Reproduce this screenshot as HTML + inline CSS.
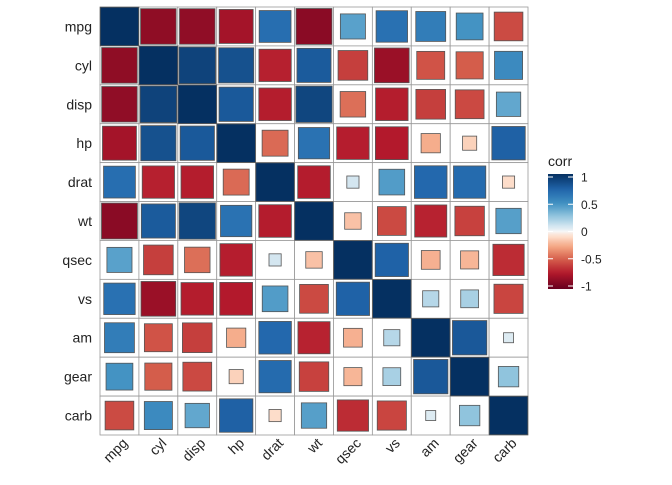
<!DOCTYPE html>
<html><head><meta charset="utf-8"><style>
body{margin:0;background:#fff;font-family:"Liberation Sans",Arial,sans-serif}
</style></head><body>
<svg id="c" width="672" height="480" xmlns="http://www.w3.org/2000/svg"></svg>
<script>
const vars=["mpg","cyl","disp","hp","drat","wt","qsec","vs","am","gear","carb"];
const corrRows=[
[1,-0.852,-0.848,-0.776,0.681,-0.868,0.419,0.664,0.600,0.480,-0.551],
[-0.852,1,0.902,0.832,-0.700,0.782,-0.591,-0.811,-0.523,-0.493,0.527],
[-0.848,0.902,1,0.791,-0.710,0.888,-0.434,-0.710,-0.591,-0.556,0.395],
[-0.776,0.832,0.791,1,-0.449,0.659,-0.708,-0.723,-0.243,-0.126,0.750],
[0.681,-0.700,-0.710,-0.449,1,-0.712,0.091,0.440,0.713,0.700,-0.091],
[-0.868,0.782,0.888,0.659,-0.712,1,-0.175,-0.555,-0.692,-0.583,0.428],
[0.419,-0.591,-0.434,-0.708,0.091,-0.175,1,0.745,-0.230,-0.213,-0.656],
[0.664,-0.811,-0.710,-0.723,0.440,-0.555,0.745,1,0.168,0.206,-0.570],
[0.600,-0.523,-0.591,-0.243,0.713,-0.692,-0.230,0.168,1,0.794,0.058],
[0.480,-0.493,-0.556,-0.126,0.700,-0.583,-0.213,0.206,0.794,1,0.274],
[-0.551,0.527,0.395,0.750,-0.091,0.428,-0.656,-0.570,0.058,0.274,1]];
const legendTicks=[1,0.5,0,-0.5,-1];
const NS="http://www.w3.org/2000/svg";
const svg=document.getElementById('c');
function mk(t,a,p){const e=document.createElementNS(NS,t);for(const k in a)e.setAttribute(k,a[k]);(p||svg).appendChild(e);return e;}
const X0=100,Y0=7,W=428,H=428,n=vars.length,cw=W/n,ch=H/n;
const xs=i=>X0+i*cw, ys=j=>Y0+j*ch;
const stops=[[-1,[103,0,31]],[-0.8,[178,24,43]],[-0.6,[214,96,77]],[-0.4,[244,165,130]],[-0.2,[253,219,199]],[0,[247,247,247]],[0.2,[209,229,240]],[0.4,[146,197,222]],[0.6,[67,147,195]],[0.8,[33,102,172]],[1,[5,48,97]]];
function colRaw(v){for(let i=0;i<stops.length-1;i++){const[a,ca]=stops[i],[b,cb]=stops[i+1];if(v<=b){const t=(v-a)/(b-a);return 'rgb('+ca.map((c,k)=>Math.round(c+(cb[k]-c)*t)).join(',')+')';}}return 'rgb(5,48,97)';}
function col(v){return colRaw(Math.sign(v)*Math.pow(Math.abs(v),0.7));}
let rmin=1;corrRows.forEach(r=>r.forEach(v=>{rmin=Math.min(rmin,Math.abs(v));}));
const s0=10,s1=38.5;
function side(v){const a=Math.abs(v);return Math.sqrt(s0*s0+(s1*s1-s0*s0)*(a-rmin)/(1-rmin));}
for(let j=0;j<n;j++)for(let i=0;i<n;i++){
 const bg=mk('rect',{x:xs(i),y:ys(j),width:cw,height:ch,fill:'#fff',stroke:'#999','stroke-width':0.8});
 
 
}
for(let j=0;j<n;j++)for(let i=0;i<n;i++){
 const v=corrRows[j][i],s=side(v);
 const r=mk('rect',{x:xs(i)+cw/2-s/2,y:ys(j)+ch/2-s/2,width:s,height:s,fill:col(v),stroke:'#555','stroke-width':0.8});
 
 
}
vars.forEach((v,j)=>{const t=mk('text',{x:92,y:ys(j)+ch/2+5,'text-anchor':'end','font-size':14,fill:'#222'});t.textContent=v;
 
 });
vars.forEach((v,i)=>{const cx=xs(i)+cw/2+9,cy=444;const t=mk('text',{x:cx,y:cy,'text-anchor':'end','font-size':14,fill:'#222',transform:'rotate(-45 '+cx+' '+cy+')'});t.textContent=v;
 
 });
const LX=548,LY=174,LW=25,LH=115;
const defs=mk('defs',{});const g=mk('linearGradient',{id:'lg',x1:0,y1:1,x2:0,y2:0},defs);
for(let k=0;k<=40;k++){const v=-1+k/20;mk('stop',{offset:(k/40*100)+'%','stop-color':col(v)},g);}
const lt=mk('text',{x:LX,y:166,'font-size':14,fill:'#222'});lt.textContent='corr';


const bar=mk('rect',{x:LX,y:LY,width:LW,height:LH,fill:'url(#lg)'});


const ly=v=>LY+3+(1-v)/2*(LH-6);
legendTicks.forEach(v=>{
 mk('line',{x1:LX,x2:LX+5,y1:ly(v),y2:ly(v),stroke:'#fff','stroke-width':1});
 mk('line',{x1:LX+LW-5,x2:LX+LW,y1:ly(v),y2:ly(v),stroke:'#fff','stroke-width':1});
 const t=mk('text',{x:581,y:ly(v)+4.5,'font-size':12,fill:'#222'});t.textContent=String(v);
 
 
});
</script>
</body></html>
